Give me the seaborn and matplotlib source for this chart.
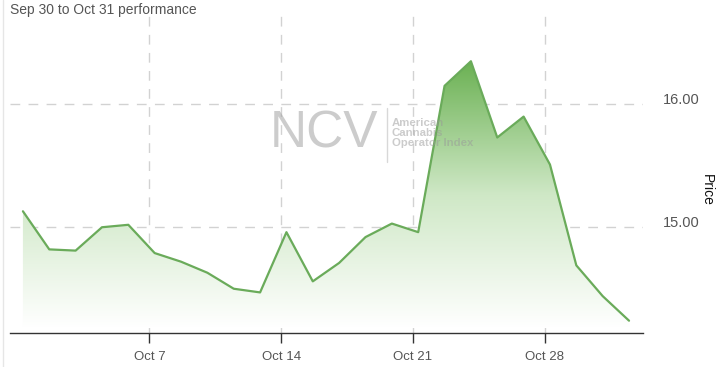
import numpy as np
import pandas as pd
import matplotlib
matplotlib.use("Agg")
import matplotlib.pyplot as plt
import seaborn as sns
import matplotlib.transforms as mtrans
from matplotlib.colors import LinearSegmentedColormap
from matplotlib.lines import Line2D

# ---- data ----
dates = ["Sep 30", "Oct 1", "Oct 2", "Oct 3", "Oct 4",
         "Oct 7", "Oct 8", "Oct 9", "Oct 10", "Oct 11",
         "Oct 14", "Oct 15", "Oct 16", "Oct 17", "Oct 18",
         "Oct 21", "Oct 22", "Oct 23", "Oct 24", "Oct 25",
         "Oct 28", "Oct 29", "Oct 30", "Oct 31"]
prices = [15.13, 14.82, 14.81, 15.00, 15.02,
          14.79, 14.72, 14.63, 14.50, 14.47,
          14.96, 14.56, 14.71, 14.92, 15.03,
          14.96, 16.15, 16.35, 15.73, 15.90,
          15.51, 14.69, 14.44, 14.24]
tick_dates = ["Oct 7", "Oct 14", "Oct 21", "Oct 28"]
ytick_vals = [15.0, 16.0]
ytick_labels = ["15.00", "16.00"]

df = pd.DataFrame({"idx": np.arange(len(dates)), "date": dates, "price": prices})

sns.set_style("white")
plt.rcParams['font.family'] = ['Liberation Sans', 'DejaVu Sans']

W, H = 725, 367
fig = plt.figure(figsize=(W / 100, H / 100), dpi=100)
ax = fig.add_axes([10 / W, (H - 333) / H, (643 - 10) / W, (333 - 16) / H])

xmin, xmax = -0.49, 23.53
ymin, ymax = 14.14, 16.718
ax.set_xlim(xmin, xmax)
ax.set_ylim(ymin, ymax)

line_color = "#6aab5a"
top_green = "#6bb153"

# gradient fill
cmap = LinearSegmentedColormap.from_list("g", ["#ffffff", "#cfe8c6", top_green])
fill_top = max(prices)
fill_bottom = 14.18
grad = np.linspace(0, 1, 256).reshape(-1, 1)
poly = ax.fill_between(df["idx"], df["price"], ymin, color="none", lw=0, zorder=2)
im = ax.imshow(grad, aspect="auto", cmap=cmap, origin="lower",
               extent=[xmin, xmax, fill_bottom, fill_top], zorder=2,
               interpolation="bilinear")
im.set_clip_path(poly.get_paths()[0], transform=ax.transData)

sns.lineplot(data=df, x="idx", y="price", ax=ax, color=line_color, lw=1.6, zorder=3)

# grid
grid_kw = dict(color="#d2d2d2", lw=1.0, dashes=(7, 6), zorder=1)
tick_pos = [dates.index(d) - 0.2 for d in tick_dates]
for tp in tick_pos:
    ax.axvline(tp, **grid_kw)
for yv in ytick_vals:
    ax.axhline(yv, **grid_kw)

# axes styling
for s in ["top", "right", "left"]:
    ax.spines[s].set_visible(False)
ax.spines["bottom"].set_color("#333333")
ax.spines["bottom"].set_linewidth(1.0)
ax.set_xticks(tick_pos)
ax.set_xticklabels(tick_dates, color="#555555", fontsize=9.5)
ax.tick_params(axis="x", length=7, width=1, color="#333333", pad=6, direction="out", bottom=True)
ax.yaxis.tick_right()
ax.set_yticks(ytick_vals)
ax.set_yticklabels(ytick_labels, color="#555555", fontsize=10.5)
ax.tick_params(axis="y", length=0, pad=14)
for lab in ax.get_yticklabels():
    lab.set_verticalalignment("bottom")
ax.set_xlabel("")
ax.set_ylabel("")
off = mtrans.ScaledTranslation(0, -2 / 72, fig.dpi_scale_trans)
for lab in ax.get_yticklabels():
    lab.set_transform(lab.get_transform() + off)

fig.text(707 / W, 1 - 190 / H, "Price", rotation=-90, ha="center", va="center",
         fontsize=10, color="#111111")

# title
fig.text(10 / W, 1 - 10 / H, "Sep 30 to Oct 31 performance", ha="left", va="center",
         fontsize=10, color="#555555")

ax.set_zorder(1)
ax.patch.set_alpha(0)

# watermark (drawn on top, semi-transparent)
fig.text(270 / W, 1 - 134 / H, "NCV", ha="left", va="center", fontsize=37,
         color="#9a9a9a", alpha=0.5, zorder=5)
fig.add_artist(Line2D([387 / W, 387 / W], [1 - 108 / H, 1 - 162 / H],
                      transform=fig.transFigure, color="#aaaaaa", alpha=0.45, lw=1, zorder=5))
fig.text(392 / W, 1 - 133 / H, "American\nCannabis\nOperator Index", ha="left",
         va="center", fontsize=8.2, fontweight="bold", color="#999999", alpha=0.5,
         linespacing=1.0, zorder=5)

# left border
fig.add_artist(Line2D([2.5 / W, 2.5 / W], [0, 1], transform=fig.transFigure,
                      color="#e6e6e6", lw=1))

fig.savefig("out.png", dpi=100, facecolor="white")
